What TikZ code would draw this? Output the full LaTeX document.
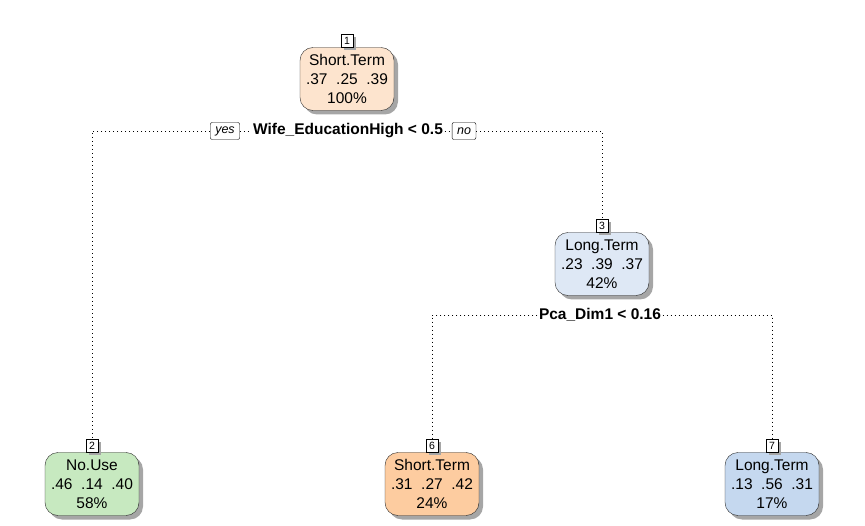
\documentclass[tikz,border=0pt]{standalone}
\usepackage{fontspec}
\setmainfont{Liberation Sans}
\usetikzlibrary{shadows,positioning}

\definecolor{rootfill}{RGB}{253,228,206}
\definecolor{longfill}{RGB}{222,232,245}
\definecolor{nousefill}{RGB}{199,233,192}
\definecolor{shortfill}{RGB}{253,204,160}
\definecolor{longleaf}{RGB}{197,216,239}

\begin{document}
\begin{tikzpicture}[x=1pt, y=-1pt,
    treebox/.style={draw=black!85, rounded corners=13pt, minimum width=94pt, minimum height=63pt,
        align=center, inner sep=0pt, font=\fontsize{15.5}{19}\selectfont,
        drop shadow={shadow xshift=4pt, shadow yshift=-4pt, fill=black!35, opacity=1}},
    tag/.style={draw=black, fill=white, inner sep=0pt, minimum width=12pt, minimum height=13pt,
        font=\fontsize{10.5}{10.5}\selectfont,
        drop shadow={shadow xshift=3pt, shadow yshift=-3pt, fill=black!35, opacity=1}},
    split/.style={fill=white, inner sep=1.5pt, font=\bfseries\fontsize{15.5}{16}\selectfont},
    answer/.style={draw=black, fill=white, rounded corners=2pt, inner xsep=5pt, inner ysep=0pt,
        minimum height=17pt, font=\itshape\fontsize{12.5}{12.5}\selectfont},
    branch/.style={dash pattern=on 1.2pt off 2.8pt, line width=0.9pt}]
        \useasboundingbox (0, 0) rectangle (865, 526);

        \node[treebox, fill=rootfill] (n1) at (347, 79) {Short.Term\\.37~~.25~~.39\\100\%};
        \node[tag, above=0pt of n1] (t1) {1};
        \node[split] (s1) at (348, 131) {Wife\_EducationHigh < 0.5};
        \node[answer] (yes) at (225, 131) {yes};
        \node[answer] (no) at (464, 131) {no};

        \node[treebox, fill=longfill] (n3) at (602, 264) {Long.Term\\.23~~.39~~.37\\42\%};
        \node[tag, above=0pt of n3] (t3) {3};
        \node[split] (s3) at (600, 315) {Pca\_Dim1 < 0.16};

        \node[treebox, fill=nousefill] (n2) at (92, 484) {No.Use\\.46~~.14~~.40\\58\%};
        \node[tag, above=0pt of n2] (t2) {2};
        \node[treebox, fill=shortfill] (n6) at (432, 484) {Short.Term\\.31~~.27~~.42\\24\%};
        \node[tag, above=0pt of n6] (t6) {6};
        \node[treebox, fill=longleaf] (n7) at (772, 484) {Long.Term\\.13~~.56~~.31\\17\%};
        \node[tag, above=0pt of n7] (t7) {7};

        \draw[branch] (yes.west) -| (t2.north);
        \draw[branch] (yes.east) -- (s1.west);
        \draw[branch] (s1.east) -- (no.west);
        \draw[branch] (no.east) -| (t3.north);
        \draw[branch] (s3.west) -| (t6.north);
        \draw[branch] (s3.east) -| (t7.north);
\end{tikzpicture}
\end{document}
